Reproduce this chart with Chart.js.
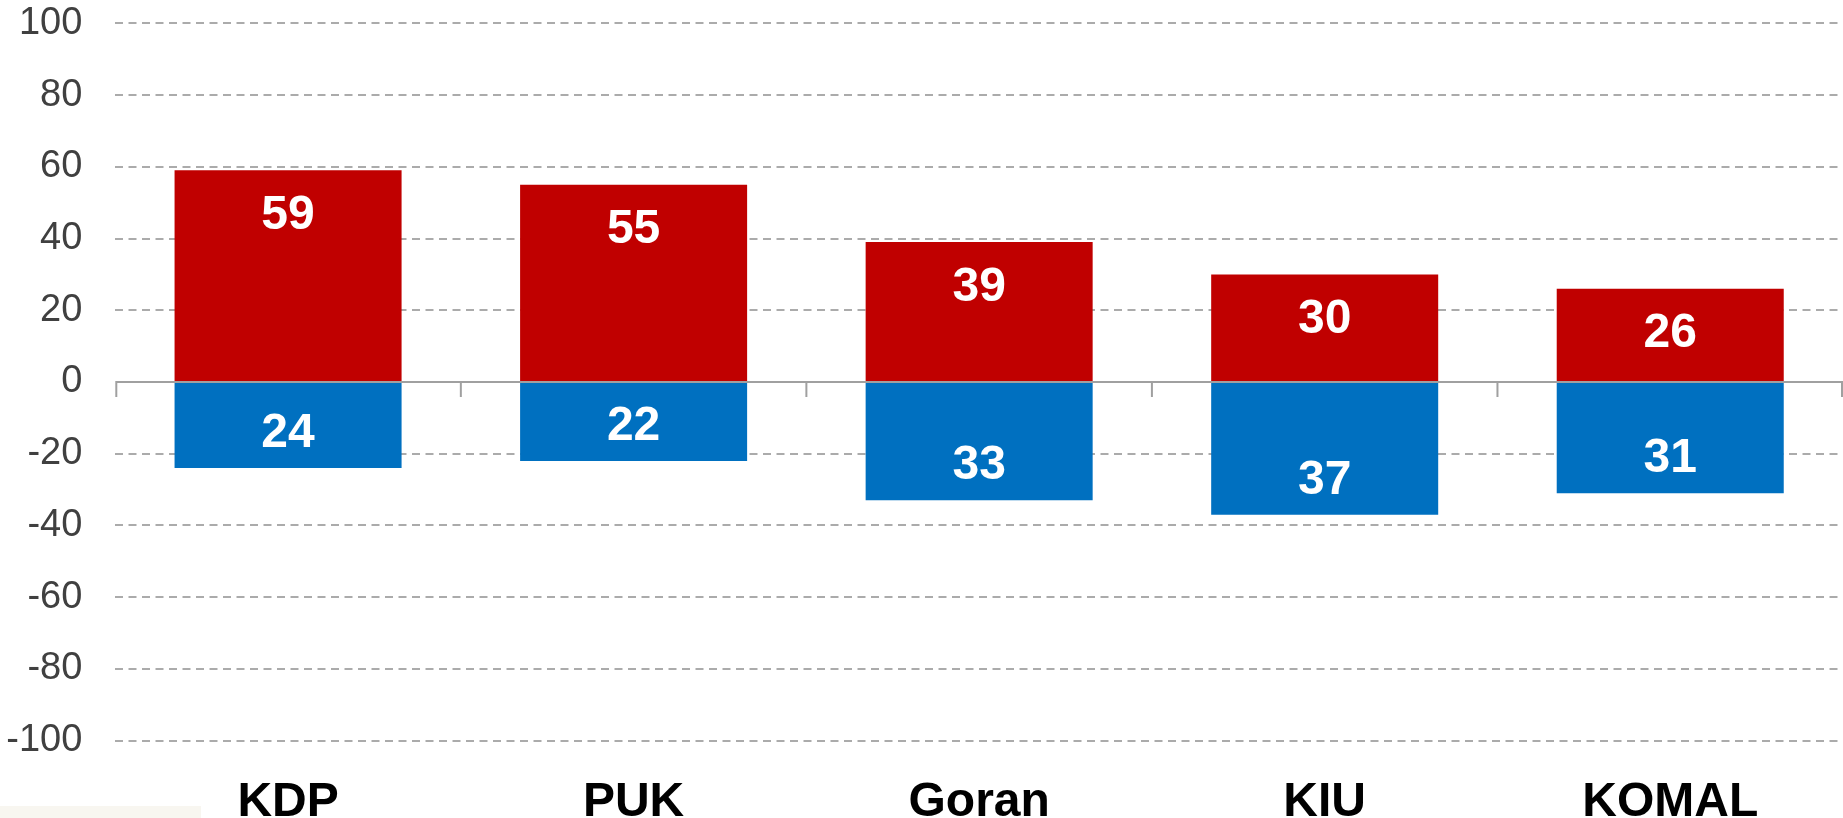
<!DOCTYPE html>
<html>
<head>
<meta charset="utf-8">
<script src="https://cdn.jsdelivr.net/npm/chart.js@4.4.1/dist/chart.umd.min.js"></script>
<style>
  html, body { margin: 0; padding: 0; background: #ffffff; }
  #wrap { position: relative; width: 1843px; height: 818px; overflow: hidden; }
  #c { position: absolute; left: 0; top: 0; }
  #note { position: absolute; left: 0; top: 806px; width: 201px; height: 12px; background: #F8F6F0; }
</style>
</head>
<body>
<div id="wrap">
  <canvas id="c" width="1843" height="818"></canvas>
  <div id="note"></div>
</div>
<script>
// ---- data ----
const categories = ["KDP", "PUK", "Goran", "KIU", "KOMAL"];
const favourable = [59, 55, 39, 30, 26];
const unfavourable = [24, 22, 33, 37, 31];
const yTicks = [-100, -80, -60, -40, -20, 0, 20, 40, 60, 80, 100];

const RED = "#C00000";
const BLUE = "#0070C0";
const FONT = "'Liberation Sans', Arial, Helvetica, sans-serif";

const labelPlugin = {
  id: "valueLabels",
  afterDatasetsDraw(chart) {
    const ctx = chart.ctx;
    const xs = chart.scales.x, ys = chart.scales.y;
    // zero axis line with category boundary ticks
    const y0 = ys.getPixelForValue(0);
    ctx.save();
    ctx.strokeStyle = "#A0A0A0";
    ctx.lineWidth = 2;
    ctx.beginPath();
    ctx.moveTo(chart.chartArea.left, y0);
    ctx.lineTo(chart.chartArea.right, y0);
    const step = xs.getPixelForValue(1) - xs.getPixelForValue(0);
    for (let i = 0; i <= categories.length; i++) {
      let x = xs.getPixelForValue(0) - step / 2 + i * step;
      if (i === 0) x = chart.chartArea.left + 1;
      if (i === categories.length) x = chart.chartArea.right - 1;
      ctx.moveTo(x, y0);
      ctx.lineTo(x, y0 + 15);
    }
    ctx.stroke();
    ctx.restore();

    ctx.save();
    ctx.fillStyle = "#ffffff";
    ctx.font = "bold 48px " + FONT;
    ctx.textAlign = "center";
    ctx.textBaseline = "alphabetic";
    chart.data.datasets.forEach((ds, di) => {
      const meta = chart.getDatasetMeta(di);
      meta.data.forEach((el, i) => {
        const v = ds.data[i];
        const txt = String(Math.abs(v));
        const y = v >= 0 ? el.y + 58.6 : el.y - 21.1;
        ctx.fillText(txt, el.x, y);
      });
    });
    ctx.restore();
  }
};

new Chart(document.getElementById("c"), {
  type: "bar",
  data: {
    labels: categories,
    datasets: [
      {
        label: "Favourable",
        data: favourable,
        backgroundColor: RED,
        borderWidth: 0,
        barPercentage: 0.657,
        categoryPercentage: 1
      },
      {
        label: "Unfavourable",
        data: unfavourable.map(v => -v),
        backgroundColor: BLUE,
        borderWidth: 0,
        barPercentage: 0.657,
        categoryPercentage: 1
      }
    ]
  },
  options: {
    responsive: false,
    animation: false,
    devicePixelRatio: 1,
    layout: { padding: { top: 23.3, right: 0, bottom: 0, left: 0 } },
    plugins: {
      legend: { display: false },
      tooltip: { enabled: false },
      title: { display: false }
    },
    scales: {
      x: {
        stacked: true,
        grid: { display: false },
        border: { display: false },
        ticks: {
          padding: 25,
          color: "#000000",
          font: { family: FONT, size: 48, weight: "bold" }
        },
        afterFit(scale) { scale.height = 77.3; scale.paddingLeft = 0; scale.paddingRight = 0; }
      },
      y: {
        stacked: true,
        min: -100,
        max: 100,
        afterBuildTicks(scale) { scale.ticks = yTicks.map(v => ({ value: v })); },
        grid: {
          drawTicks: false,
          lineWidth: 2,
          color: ctx => (ctx.tick && ctx.tick.value === 0) ? "rgba(0,0,0,0)" : "#ABABAB"
        },
        border: { display: false, dash: [8, 5.5] },
        ticks: {
          padding: 33,
          color: "#404040",
          font: { family: FONT, size: 38 }
        },
        afterFit(scale) { scale.width = 115.3; scale.paddingTop = 0; scale.paddingBottom = 0; }
      }
    }
  },
  plugins: [labelPlugin]
});
</script>
</body>
</html>
